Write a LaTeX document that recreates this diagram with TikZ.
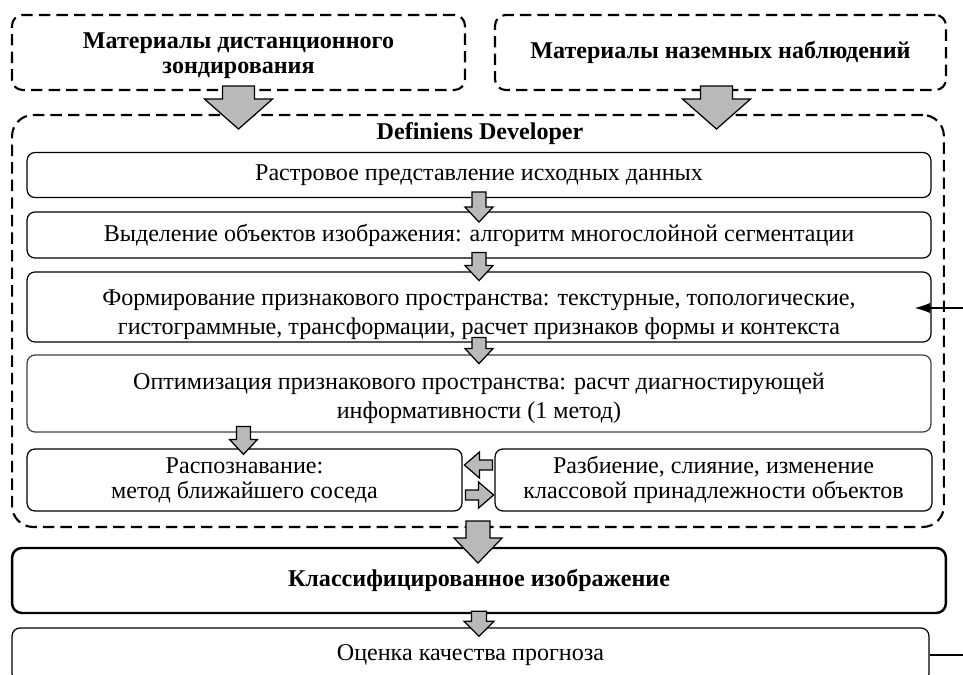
\documentclass[tikz,border=0pt]{standalone}
\usepackage{fontspec}
\setmainfont{Liberation Serif}
\usetikzlibrary{
  arrows.meta, % for arrow tips
  calc, % for position calculations
}
% block arrow pointing down: start, shaft length, head length, shaft half width, head half width
\newcommand{\blockdown}[5]{%
  \draw[blockarr] (#1) ++(-#4,0) -- ++(0,#2) -- ++(#4-#5,0) -- ++(#5,#3)
    -- ++(#5,-#3) -- ++(#4-#5,0) -- ++(0,-#2) -- cycle;%
}
% block arrow sideways (negative lengths point left)
\newcommand{\blockside}[5]{%
  \draw[blockarr] (#1) ++(0,-#4) -- ++(#2,0) -- ++(0,#4-#5) -- ++(#3,#5)
    -- ++(-#3,#5) -- ++(0,#4-#5) -- ++(-#2,0) -- cycle;%
}
% text set a little lower inside its box
\newcommand{\lowtext}[3]{\parbox{#2}{\centering\vspace*{#1}#3}}

\begin{document}
\begin{tikzpicture}[
    x=0.02cm, y=-0.02cm,% pixel grid, y down
    font=\fontsize{13.7}{16.5}\selectfont,%
    every node/.style={align=center, inner sep=0pt},%
    dashbox/.style={draw, line width=1.2pt, dash pattern=on 6.5pt off 3.5pt, rounded corners=6pt},%
    stagebox/.style={draw, line width=0.7pt, rounded corners=4.5pt, minimum width=18.08cm},%
    resultbox/.style={draw, line width=1.4pt, rounded corners=5.5pt},%
    blockarr/.style={draw, fill=gray!55, line width=0.7pt, line join=miter},%
    title/.style={font=\fontsize{13.7}{14.2}\selectfont\bfseries},%
    tight/.style={font=\fontsize{13.7}{14.2}\selectfont},%
  ]
  \useasboundingbox (0,0) rectangle (963,675);
  \clip (0,0) rectangle (963,675);

  % input materials
  \node[dashbox, title, minimum width=9.06cm, minimum height=1.5cm]
    (rs) at (238.5,52.5) {\lowtext{3.4pt}{8cm}{Материалы дистанционного\\ зондирования}};
  \node[dashbox, title, minimum width=9.02cm, minimum height=1.5cm]
    (gr) at (720.5,52.5) {Материалы наземных наблюдений};

  % software frame
  \node[dashbox, rounded corners=12pt, minimum width=18.64cm, minimum height=8.24cm] (dev) at (478,321) {};
  \node[title] (devt) at (480,134) {Definiens Developer};

  % processing stages
  \node[stagebox, minimum height=0.9cm] (b1) at (479,175) {Растровое представление исходных данных};
  \node[stagebox, minimum height=0.92cm] (b2) at (479,235)
    {Выделение объектов изображения: алгоритм многослойной сегментации};
  \node[stagebox, minimum height=1.4cm] (b3) at (479,307)
    {\lowtext{9pt}{17cm}{Формирование признакового пространства: текстурные, топологические,\\
     гистограммные, трансформации, расчет признаков формы и контекста}};
  \node[stagebox, minimum height=1.54cm, draw=black!75] (b4) at (479,393.5)
    {\lowtext{5.6pt}{17cm}{Оптимизация признакового пространства: расчт диагностирующей\\
     информативности (1 метод)}};
  \node[stagebox, tight, minimum width=8.7cm, minimum height=1.24cm] (b5) at (244.5,480)
    {Распознавание:\\ метод ближайшего соседа};
  \node[stagebox, tight, minimum width=8.74cm, minimum height=1.24cm] (b6) at (713.5,480)
    {Разбиение, слияние, изменение\\ классовой принадлежности объектов};

  % results
  \node[resultbox, title, minimum width=18.68cm, minimum height=1.3cm]
    (b7) at (479,580.5) {Классифицированное изображение};
  \node[stagebox, minimum width=18.34cm, minimum height=1.08cm] (b8) at (470.5,655)
    {Оценка качества прогноза};

  % block arrows
  \blockdown{$(rs.south)+(0,-5)$}{13}{30}{16}{34}
  \blockdown{$(gr.south)+(-4,-5)$}{13}{30}{16}{34}
  \blockdown{$(b1.south)+(0,-6)$}{15}{15}{7}{14}
  \blockdown{$(b2.south)+(0,-6)$}{13}{15}{7}{14}
  \blockdown{$(b3.south)+(0,-5)$}{11}{15}{7}{14}
  \blockdown{$(b5.north)+(-1,-22)$}{13}{15}{7}{14}
  \blockside{$(b6.west)+(-2,-15)$}{-13}{-15}{5}{13}
  \blockside{$(b5.east)+(3,15)$}{13}{15}{5}{13}
  \blockdown{$(dev.south)+(0,-7)$}{17}{25}{12}{24}
  \blockdown{$(b7.south)+(0,-3)$}{10}{15}{7.5}{15}

  % outside links
  \coordinate (fb) at (963,308);
  \coordinate (qa) at (963,655);
  \draw[line width=0.8pt, -{Latex[length=9pt, width=6pt]}] (fb) -- ($(b3.east)+(-17,1)$);
  \draw[line width=0.6pt] (b8.east) -- (qa);
\end{tikzpicture}
\end{document}
